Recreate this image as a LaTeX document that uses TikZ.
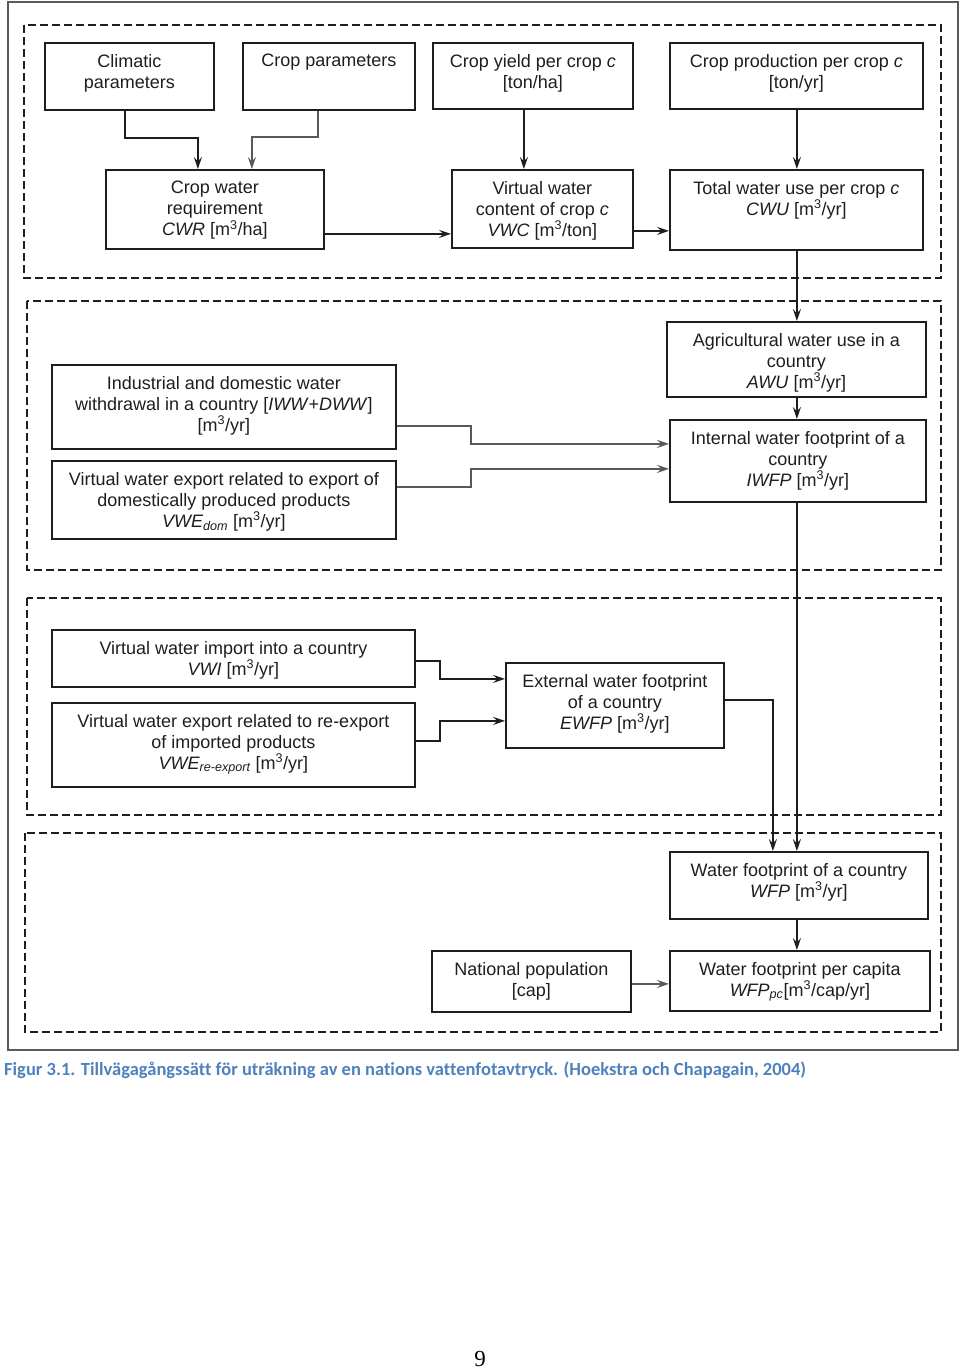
\documentclass[tikz,border=0pt]{standalone}
\usepackage{fontspec}
\setmainfont{Liberation Sans}
\newfontfamily\capfont[Ligatures=NoCommon]{Carlito}
\newfontfamily\numfont{Liberation Serif}
\usetikzlibrary{arrows.meta,calc}
\definecolor{capblue}{RGB}{79,129,189}
\definecolor{framegray}{RGB}{90,90,90}
\definecolor{ink}{RGB}{30,30,30}
\tikzset{
  boxnode/.style={draw=ink, line width=1.8pt, inner sep=0pt, anchor=north west},
  lbl/.style={anchor=north, inner sep=0pt, align=center, text=ink,
    font=\fontsize{18}{21}\selectfont},
  group/.style={draw=ink, line width=1.6pt, dash pattern=on 8pt off 4pt},
  arr/.style={draw=ink, line width=1.8pt, -{Stealth[length=12pt,width=8pt,inset=4.5pt]}},
  arrg/.style={arr, draw=gray!70!black},
}
\newcommand\flowbox[6]{% name, x, y, w, h, text
  \node[boxnode, minimum width=#4pt, minimum height=#5pt] (#1) at (#2,#3) {};
  \node[lbl] (#1-t) at ([yshift=-12pt]#1.north) {#6};
}
\begin{document}
\begin{tikzpicture}[x=1pt,y=-1pt]
\useasboundingbox (0,0) rectangle (960,1370);
% outer frame
\draw[framegray, line width=1.6pt] (8,2) rectangle (958,1050);
% dashed groups
\draw[group] (24,25) rectangle (941,278);
\draw[group] (27,301) rectangle (941,570);
\draw[group] (27,598) rectangle (941,815);
\draw[group] (25,833) rectangle (941,1032);

% boxes
\flowbox{clim}{44}{42}{169}{67}{Climatic\\parameters}
\flowbox{cpar}{242}{42}{172}{67}{Crop parameters}
\flowbox{yield}{432}{42}{200}{66}{Crop yield per crop \textit{c}\\{[}ton/ha{]}}
\flowbox{prod}{669}{42}{253}{66}{Crop production per crop \textit{c}\\{[}ton/yr{]}}
\flowbox{cwr}{105}{169}{218}{79}{Crop water\\requirement\\\textit{CWR} {[}m\textsuperscript{3}/ha{]}}
\flowbox{vwc}{451}{169}{181}{78}{Virtual water\\content of crop \textit{c}\\\textit{VWC} {[}m\textsuperscript{3}/ton{]}}
\flowbox{cwu}{669}{169}{253}{80}{Total water use per crop \textit{c}\\\textit{CWU} {[}m\textsuperscript{3}/yr{]}}
\flowbox{awu}{666}{321}{259}{75}{Agricultural water use in a\\country\\\textit{AWU} {[}m\textsuperscript{3}/yr{]}}
\flowbox{iwfp}{669}{419}{256}{82}{Internal water footprint of a\\country\\\textit{IWFP} {[}m\textsuperscript{3}/yr{]}}
\flowbox{iww}{51}{364}{344}{84}{Industrial and domestic water\\withdrawal in a country {[}\textit{IWW}+\textit{DWW}{]}\\{[}m\textsuperscript{3}/yr{]}}
\flowbox{vwed}{51}{460}{344}{78}{Virtual water export related to export of\\domestically produced products\\\textit{VWE\textsubscript{dom}} {[}m\textsuperscript{3}/yr{]}}
\flowbox{vwi}{51}{629}{363}{57}{Virtual water import into a country\\\textit{VWI} {[}m\textsuperscript{3}/yr{]}}
\flowbox{vwer}{51}{702}{363}{84}{Virtual water export related to re-export\\of imported products\\\textit{VWE\textsubscript{re-export}} {[}m\textsuperscript{3}/yr{]}}
\flowbox{ewfp}{505}{662}{218}{85}{External water footprint\\of a country\\\textit{EWFP} {[}m\textsuperscript{3}/yr{]}}
\flowbox{wfp}{669}{851}{258}{67}{Water footprint of a country\\\textit{WFP} {[}m\textsuperscript{3}/yr{]}}
\flowbox{pop}{431}{950}{199}{61}{National population\\{[}cap{]}}
\flowbox{wfppc}{669}{950}{260}{60}{Water footprint per capita\\\textit{WFP\textsubscript{pc}}{[}m\textsuperscript{3}/cap/yr{]}}

% connectors
\draw[arr] ([xshift=-4.5pt]clim.south) -- ++(0,27) -| ([xshift=-17pt]cwr.north);
\draw[arrg] ([xshift=-11pt]cpar.south) -- ++(0,26) -| ([xshift=37pt]cwr.north);
\coordinate (c-yield) at ([xshift=-9pt]yield.south);
\draw[arr] (c-yield) -- (c-yield |- vwc.north);
\coordinate (c-prod) at ([xshift=0.5pt]prod.south);
\draw[arr] (c-prod) -- (c-prod |- cwu.north);
\coordinate (c-cwr) at ([yshift=-24.5pt]cwr.east);
\draw[arr] (c-cwr) -- (c-cwr -| vwc.west);
\coordinate (c-vwc) at ([yshift=-22pt]vwc.east);
\draw[arr] (c-vwc) -- (c-vwc -| cwu.west);
\coordinate (c-cwu) at ([xshift=0.5pt]cwu.south);
\draw[arr] (c-cwu) -- (c-cwu |- awu.north);
\coordinate (c-awu) at ([xshift=0.5pt]awu.south);
\draw[arr] (c-awu) -- (c-awu |- iwfp.north);
\draw[arrg] ([yshift=-19pt]iww.east) -- ++(74,0) |- ([yshift=17pt]iwfp.west);
\draw[arrg] ([yshift=13pt]vwed.east) -- ++(74,0) |- ([yshift=-8pt]iwfp.west);
\draw[arr] ([yshift=-2.5pt]vwi.east) -- ++(24,0) |- ([yshift=26.5pt]ewfp.west);
\draw[arr] ([yshift=4pt]vwer.east) -- ++(24,0) |- ([yshift=-15.5pt]ewfp.west);
\draw[arr] ([yshift=5.5pt]ewfp.east) -| ([xshift=-26pt]wfp.north);
\coordinate (c-iwfp) at ([xshift=-1pt]iwfp.south);
\draw[arr] (c-iwfp) -- (c-iwfp |- wfp.north);
\coordinate (c-wfp) at ([xshift=-2pt]wfp.south);
\draw[arr] (c-wfp) -- (c-wfp |- wfppc.north);
\coordinate (c-pop) at ([yshift=-2.5pt]pop.east);
\draw[arrg] (c-pop) -- (c-pop -| wfppc.west);

% caption and page number
\node[anchor=base west, inner sep=0pt, text=capblue, font=\capfont\bfseries\fontsize{18.5}{21}\selectfont] (cap) at (4,1075)
  {Figur 3.1. Tillvägagångssätt för uträkning av en nations vattenfotavtryck. (Hoekstra och Chapagain, 2004)};
\node[anchor=base, inner sep=0pt, font=\numfont\fontsize{23}{26}\selectfont] (pnum) at (480,1366) {9};
\end{tikzpicture}
\end{document}
